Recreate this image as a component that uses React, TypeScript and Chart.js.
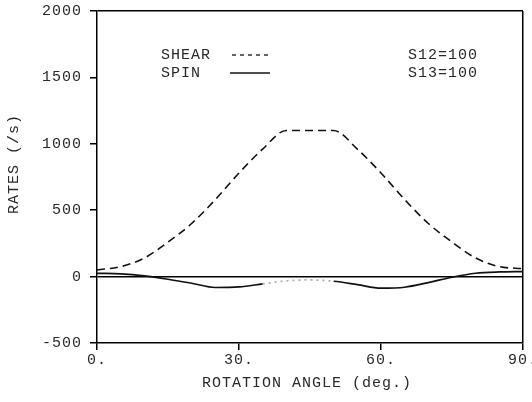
import React, { useEffect, useRef } from "react";
import { Chart, registerables } from "chart.js";

Chart.register(...registerables);

const angles = [0, 5, 10, 15, 20, 25, 30, 35, 40, 45, 50, 55, 60, 65, 70, 75, 80, 85, 90];
const shearRates = [50, 75, 140, 260, 400, 580, 780, 960, 1100, 1100, 1100, 960, 780, 580, 400, 260, 140, 75, 60];
const spinRates = [25, 20, 5, -20, -50, -82, -78, -55, -32, -25, -35, -60, -87, -80, -45, -5, 25, 35, 38];
const xTicks = [0, 30, 60, 90];
const yTicks = [-500, 0, 500, 1000, 1500, 2000];
const legendLabels = ["SHEAR", "SPIN"];
const legendNotes = ["S12=100", "S13=100"];
const xTitle = "ROTATION ANGLE (deg.)";
const yTitle = "RATES (/s)";

const FONT = "Liberation Mono";
const TEXT = "#2a2a2a";

const annotate = {
  id: "annotate",
  beforeDraw(chart: any) {
    chart.ctx.letterSpacing = "1px";
  },
  afterDraw(chart: any) {
    const ctx = chart.ctx;
    ctx.save();
    ctx.letterSpacing = "1px";
    ctx.fillStyle = TEXT;
    ctx.font = `15px "${FONT}"`;
    ctx.textBaseline = "middle";
    ctx.textAlign = "center";
    ctx.fillText(xTitle, 307, 383);
    ctx.save();
    ctx.translate(14, 164);
    ctx.rotate(-Math.PI / 2);
    ctx.fillText(yTitle, 0, 0);
    ctx.restore();
    const rows = [55, 73];
    ctx.textAlign = "left";
    legendLabels.forEach((lab, i) => {
      ctx.fillText(lab, 161, rows[i]);
      ctx.fillText(legendNotes[i], 408, rows[i]);
    });
    ctx.strokeStyle = "#111";
    ctx.lineWidth = 1.3;
    ctx.setLineDash([4, 4]);
    ctx.beginPath();
    ctx.moveTo(232, rows[0]);
    ctx.lineTo(271, rows[0]);
    ctx.stroke();
    ctx.setLineDash([]);
    ctx.lineWidth = 1.6;
    ctx.beginPath();
    ctx.moveTo(230, rows[1]);
    ctx.lineTo(270, rows[1]);
    ctx.stroke();
    ctx.restore();
  },
};

export default function App() {
  const ref = useRef<HTMLCanvasElement>(null);
  useEffect(() => {
    document.body.style.margin = "0";
    const faint = (c: any) => c.p0.parsed.x >= 35 && c.p1.parsed.x <= 50;
    const chart = new Chart(ref.current as HTMLCanvasElement, {
      type: "line",
      data: {
        datasets: [
          {
            label: legendLabels[0],
            data: angles.map((a, i) => ({ x: a, y: shearRates[i] })),
            borderColor: "#111",
            borderWidth: 1.6,
            borderDash: [8, 5],
            pointRadius: 0,
            cubicInterpolationMode: "monotone",
            fill: false,
          },
          {
            label: legendLabels[1],
            data: angles.map((a, i) => ({ x: a, y: spinRates[i] })),
            borderColor: "#111",
            borderWidth: 1.7,
            pointRadius: 0,
            cubicInterpolationMode: "monotone",
            fill: false,
            segment: {
              borderColor: (c: any) => (faint(c) ? "#aaa" : "#111"),
              borderDash: (c: any) => (faint(c) ? [2, 4] : []),
            },
          },
        ],
      },
      options: {
        animation: false,
        responsive: false,
        layout: { padding: { left: 0, top: 11, right: 9, bottom: 0 }, autoPadding: false },
        plugins: { legend: { display: false }, tooltip: { enabled: false }, title: { display: false } },
        scales: {
          x: {
            type: "linear",
            min: 0,
            max: 90,
            afterFit: (s: any) => {
              s.height = 59;
              s.paddingLeft = 0;
              s.paddingRight = 0;
              s.paddingTop = 0;
              s.paddingBottom = 0;
            },
            afterBuildTicks: (s: any) => {
              s.ticks = xTicks.map((v) => ({ value: v }));
            },
            ticks: {
              callback: (v: any) => `${v}.`,
              font: { family: FONT, size: 15 },
              color: TEXT,
              padding: 1,
              maxRotation: 0,
              autoSkip: false,
            },
            grid: {
              drawOnChartArea: true,
              color: (c: any) => (c.tick && c.tick.value === 90 ? "#000" : "rgba(0,0,0,0)"),
              lineWidth: 1.5,
              tickColor: "#000",
              tickLength: 7,
            },
            border: { display: true, color: "#000", width: 1.5 },
          },
          y: {
            type: "linear",
            min: -500,
            max: 2000,
            afterFit: (s: any) => {
              s.width = 97;
              s.paddingLeft = 0;
              s.paddingRight = 0;
              s.paddingTop = 0;
              s.paddingBottom = 0;
            },
            afterBuildTicks: (s: any) => {
              s.ticks = yTicks.map((v) => ({ value: v }));
            },
            ticks: {
              callback: (v: any) => `${v}`,
              font: { family: FONT, size: 15 },
              color: TEXT,
              padding: 8,
              autoSkip: false,
            },
            grid: {
              drawOnChartArea: true,
              color: (c: any) =>
                c.tick && (c.tick.value === 0 || c.tick.value === 2000) ? "#000" : "rgba(0,0,0,0)",
              lineWidth: 1.5,
              tickColor: "#000",
              tickLength: 7,
            },
            border: { display: true, color: "#000", width: 1.5 },
          },
        },
      },
      plugins: [annotate],
    } as any);
    return () => chart.destroy();
  }, []);
  return (
    <div style={{ position: "fixed", left: 0, top: 0, width: 532, height: 402, background: "#fff" }}>
      <canvas ref={ref} width={532} height={402} />
    </div>
  );
}
